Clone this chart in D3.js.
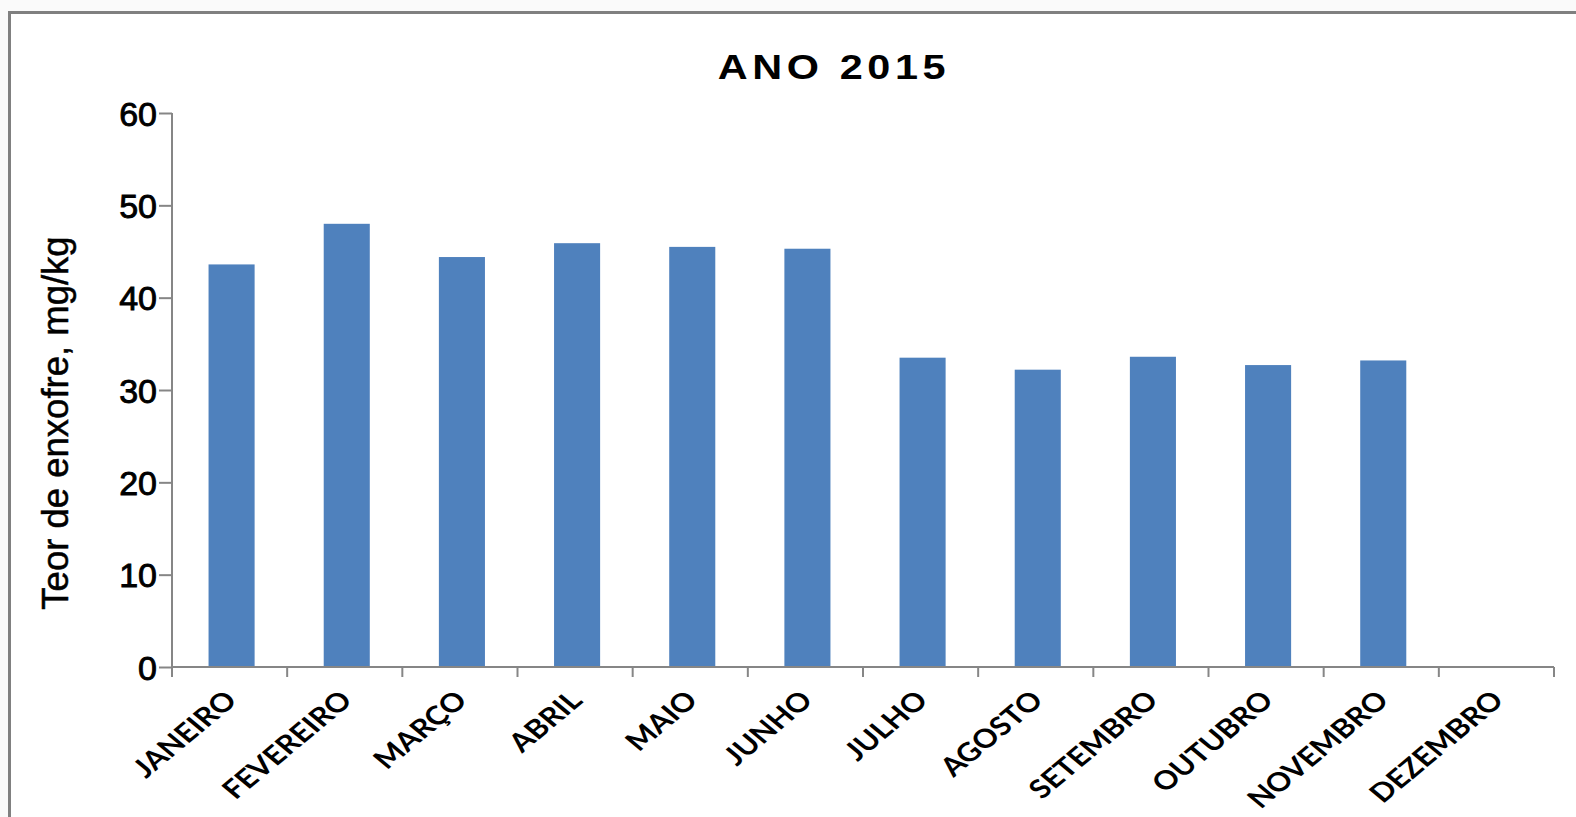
<!DOCTYPE html>
<html>
<head>
<meta charset="utf-8">
<script src="https://cdnjs.cloudflare.com/ajax/libs/d3/7.8.5/d3.min.js"></script>
<style>
  html, body { margin: 0; padding: 0; background: #fafafa; overflow: hidden; }
</style>
</head>
<body>
<div id="svg-area"></div>
<script>
var svgWidth = 1576;
var svgHeight = 817;

// chart data
var meses = ["JANEIRO", "FEVEREIRO", "MARÇO", "ABRIL", "MAIO", "JUNHO",
  "JULHO", "AGOSTO", "SETEMBRO", "OUTUBRO", "NOVEMBRO", "DEZEMBRO"];
var teorEnxofre = [43.6, 48.0, 44.4, 45.9, 45.5, 45.3, 33.5, 32.2, 33.6, 32.7, 33.2, null];
var yTicks = [0, 10, 20, 30, 40, 50, 60];
var titulo = "ANO 2015";
var yTitulo = "Teor de enxofre, mg/kg";

var svg = d3.select("#svg-area")
  .append("svg")
  .attr("width", svgWidth)
  .attr("height", svgHeight);

// chart frame
svg.append("rect")
  .attr("x", 9.5)
  .attr("y", 12.5)
  .attr("width", 1700)
  .attr("height", 900)
  .attr("fill", "#ffffff")
  .attr("stroke", "#808080")
  .attr("stroke-width", 3);

var plotLeft = 172, plotRight = 1554, plotTop = 113, plotBottom = 667;

var x = d3.scaleBand()
  .domain(meses)
  .range([plotLeft, plotRight])
  .paddingInner(0.6)
  .paddingOuter(0.3);

var xCat = d3.scaleBand()
  .domain(meses)
  .range([plotLeft, plotRight]);

var y = d3.scaleLinear()
  .domain([0, 60])
  .range([plotBottom, plotTop]);

// bars
svg.selectAll(".bar")
  .data(meses.map(function(m, i) { return { mes: m, valor: teorEnxofre[i] }; })
    .filter(function(d) { return d.valor != null; }))
  .enter()
  .append("rect")
  .attr("class", "bar")
  .attr("x", function(d) { return x(d.mes) + 2; })
  .attr("width", x.bandwidth())
  .attr("y", function(d) { return y(d.valor); })
  .attr("height", function(d) { return y(0) - y(d.valor); })
  .attr("fill", "#4f81bd");

// y axis
var yAxis = svg.append("g")
  .attr("transform", "translate(" + plotLeft + ",0)")
  .call(d3.axisLeft(y).tickValues(yTicks).tickSize(13).tickPadding(2));
yAxis.select(".domain").remove();
yAxis.append("line")
  .attr("x1", 0).attr("x2", 0)
  .attr("y1", plotTop).attr("y2", plotBottom)
  .attr("stroke", "#868686").attr("stroke-width", 2);
yAxis.selectAll(".tick line").attr("stroke", "#868686").attr("stroke-width", 2);
yAxis.selectAll(".tick text")
  .attr("fill", "#000")
  .attr("stroke", "#000")
  .attr("stroke-width", 0.9)
  .attr("dy", "0.36em")
  .style("font-family", "'Liberation Sans', Arial, sans-serif")
  .style("font-size", "34px");

// x axis
var xAxisG = svg.append("g")
  .attr("transform", "translate(0," + plotBottom + ")");
xAxisG.append("line")
  .attr("x1", plotLeft).attr("x2", plotRight)
  .attr("y1", 0).attr("y2", 0)
  .attr("stroke", "#868686").attr("stroke-width", 2);
var fronteiras = meses.map(function(m) { return xCat(m); }).concat([plotRight]);
xAxisG.selectAll(".xtick")
  .data(fronteiras)
  .enter()
  .append("line")
  .attr("x1", function(d) { return d; })
  .attr("x2", function(d) { return d; })
  .attr("y1", 0).attr("y2", 10)
  .attr("stroke", "#868686").attr("stroke-width", 2);

// month labels, rotated
xAxisG.selectAll(".xlabel")
  .data(meses)
  .enter()
  .append("text")
  .attr("transform", function(d) {
    return "translate(" + (xCat(d) + xCat.bandwidth() / 2 + 9) + ",35) scale(1.2,1) rotate(-45)";
  })
  .attr("text-anchor", "end")
  .style("font-family", "Lato, 'Open Sans', sans-serif")
  .style("font-size", "26px")
  .style("font-weight", "bold")
  .attr("fill", "#000")
  .text(function(d) { return d; });

// title
svg.append("text")
  .attr("transform", "translate(834,79) scale(1.15,1)")
  .attr("text-anchor", "middle")
  .style("font-family", "'Liberation Sans', Arial, sans-serif")
  .style("font-size", "36px")
  .style("font-weight", "bold")
  .style("letter-spacing", "4px")
  .attr("fill", "#000")
  .text(titulo);

// y axis title
svg.append("text")
  .attr("transform", "translate(68,423) rotate(-90)")
  .attr("text-anchor", "middle")
  .attr("stroke", "#000")
  .attr("stroke-width", 0.5)
  .style("font-family", "'Liberation Sans', Arial, sans-serif")
  .style("font-size", "36.5px")
  .attr("fill", "#000")
  .text(yTitulo);
</script>
</body>
</html>
